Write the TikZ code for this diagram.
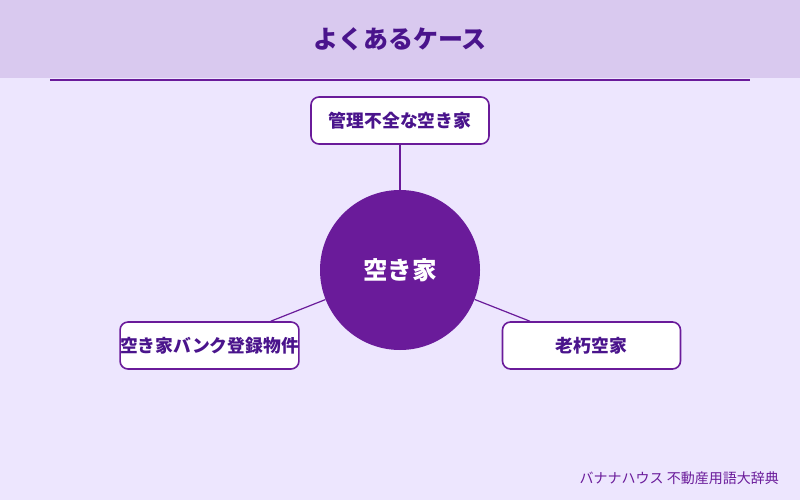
\documentclass[tikz,border=0pt]{standalone}
\usepackage{fontspec}
\newfontfamily\jp{Noto Sans CJK JP}
\definecolor{bgc}{HTML}{EDE6FE}
\definecolor{hdr}{HTML}{D9C9EF}
\definecolor{pur}{HTML}{6A1B9A}
\definecolor{dpur}{HTML}{4A148C}
\tikzset{
  leaf/.style={draw=pur, line width=1.6pt, fill=white, rounded corners=8pt,
    minimum width=178pt, minimum height=47pt, inner sep=0pt,
    font=\jp\bfseries\fontsize{17.8}{20}\selectfont, text=dpur},
  conn/.style={draw=pur, line width=1.2pt}
}
\begin{document}
\begin{tikzpicture}[x=1pt,y=-1pt]
\fill[bgc] (0,0) rectangle (800,500);
\useasboundingbox (0,0) rectangle (800,500);
\fill[hdr] (0,0) rectangle (800,78);
\node[font=\jp\bfseries\fontsize{25}{28}\selectfont, text=dpur] (title) at (400,39) {よくあるケース};
\coordinate (la) at (50,80);
\coordinate (lb) at (750,80);
\draw[pur, line width=2pt] (la) -- (lb);
\node[circle, fill=pur, minimum size=160pt, inner sep=0pt, text=white,
  font=\jp\bfseries\fontsize{24.5}{28}\selectfont] (c) at (400,270) {空き家};
\node[leaf] (t) at (400,120.5) {管理不全な空き家};
\node[leaf] (l) at (209.5,345.5) {空き家バンク登録物件};
\node[leaf] (r) at (591.5,345.5) {老朽空家};
\draw[conn] (c) -- (t);
\draw[conn] (c) -- (l);
\draw[conn] (c) -- (r);
\node[anchor=east, inner sep=0pt, font=\jp\fontsize{14}{16}\selectfont, text=pur] (f) at (779,478) {バナナハウス 不動産用語大辞典};
\end{tikzpicture}
\end{document}
